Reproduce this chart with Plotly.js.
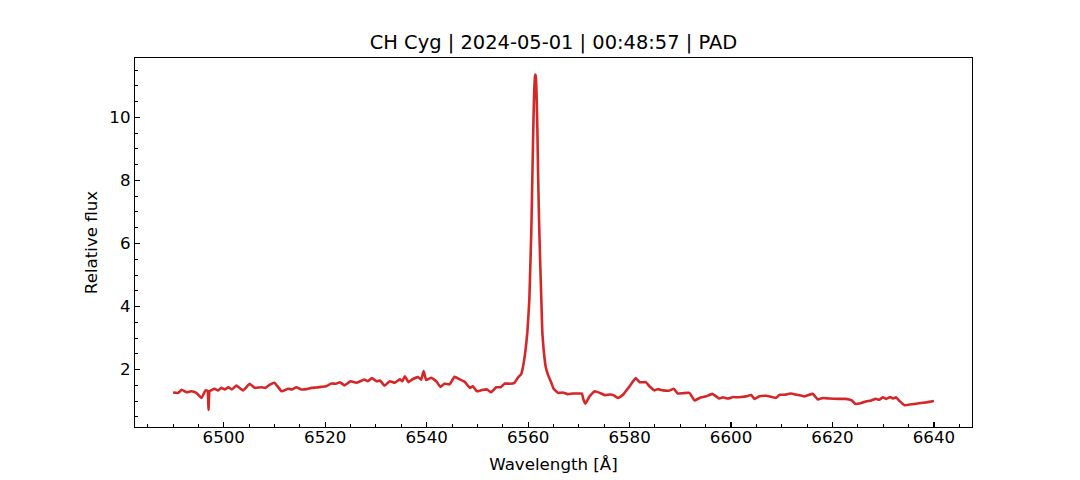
<!DOCTYPE html>
<html>
<head>
<meta charset="utf-8">
<script src="https://cdn.plot.ly/plotly-3.0.1.min.js"></script>
<style>html,body{margin:0;padding:0;background:#fff;}#chart{width:1080px;height:480px;}</style>
</head>
<body>
<div id="chart"></div>
<script>
const chartTitle = "CH Cyg | 2024-05-01 | 00:48:57 | PAD";
const xLabel = "Wavelength [Å]";
const yLabel = "Relative flux";

const wavelength = [
6490.0,6491.0,6491.7,6492.7,6493.6,6494.6,6495.6,6496.4,6496.8,6497.0,6497.2,6498.2,6498.9,6499.5,
6500.2,6500.9,6501.6,6502.5,6503.8,6505.1,6506.1,6507.4,6508.2,6509.1,6510.0,6511.4,6512.7,6513.5,
6514.3,6515.3,6516.3,6517.3,6518.3,6519.2,6520.2,6521.2,6522.1,6522.9,6523.8,6525.0,6526.1,6527.7,
6528.4,6529.2,6530.1,6530.8,6531.7,6532.7,6533.7,6534.7,6535.2,6535.7,6536.4,6537.3,6538.3,6538.9,
6539.4,6539.9,6540.9,6541.9,6542.7,6543.5,6544.5,6545.5,6546.5,6547.5,6548.5,6549.1,6549.9,6550.9,
6551.9,6552.7,6553.7,6554.6,6555.4,6556.4,6557.3,6558.0,6558.6,6559.0,6559.5,6559.84,6560.24,6560.43,
6560.62,6560.75,6560.9,6561.05,6561.2,6561.32,6561.42,6561.52,6561.65,6561.81,6561.94,6562.14,6562.40,
6562.60,6562.80,6563.05,6563.45,6563.9,6564.57,6565.0,6565.9,6566.8,6567.8,6568.8,6569.8,6570.6,
6570.9,6571.3,6572.1,6573.1,6574.1,6575.1,6576.1,6576.8,6577.7,6578.7,6580.0,6581.2,6582.0,6583.2,
6583.9,6584.9,6585.6,6586.6,6587.8,6588.7,6589.5,6590.5,6591.8,6592.8,6593.8,6595.1,6596.3,6597.7,
6598.4,6599.4,6600.4,6601.2,6602.0,6603.0,6604.0,6604.6,6605.6,6606.9,6608.8,6609.6,6610.6,6611.7,
6613.0,6614.5,6616.1,6617.1,6618.1,6619.4,6621.4,6622.5,6623.3,6623.8,6624.5,6625.7,6626.6,6627.6,
6628.5,6629.2,6629.9,6630.6,6631.4,6632.0,6632.5,6633.3,6634.2,6635.2,6637.1,6638.5,6640.0
];
const flux = [
1.27,1.26,1.36,1.28,1.31,1.26,1.10,1.34,1.33,0.72,1.31,1.39,1.34,1.42,
1.37,1.44,1.37,1.49,1.34,1.55,1.42,1.44,1.42,1.52,1.58,1.31,1.39,1.37,
1.44,1.37,1.38,1.42,1.43,1.45,1.47,1.56,1.55,1.60,1.50,1.63,1.58,1.68,
1.63,1.73,1.63,1.65,1.49,1.63,1.58,1.69,1.63,1.79,1.60,1.70,1.76,1.68,
1.95,1.67,1.74,1.63,1.45,1.55,1.53,1.77,1.69,1.61,1.42,1.47,1.31,1.35,
1.37,1.28,1.44,1.44,1.56,1.55,1.58,1.75,1.85,2.10,2.64,3.17,4.22,5.28,
6.35,7.40,8.70,9.90,10.85,11.25,11.36,11.28,10.80,9.73,8.40,6.80,5.28,
4.22,3.17,2.64,2.10,1.84,1.58,1.40,1.26,1.27,1.22,1.24,1.24,1.24,
1.05,0.92,1.15,1.31,1.26,1.19,1.21,1.19,1.10,1.20,1.47,1.73,1.60,1.60,
1.47,1.34,1.38,1.34,1.33,1.39,1.24,1.25,1.26,1.02,1.10,1.15,1.23,1.08,
1.12,1.08,1.13,1.12,1.13,1.15,1.19,1.07,1.15,1.17,1.10,1.20,1.20,1.24,
1.20,1.15,1.23,1.05,1.10,1.08,1.07,1.07,1.05,1.02,0.91,0.94,0.99,1.02,
1.07,1.04,1.12,1.07,1.13,1.08,1.12,0.99,0.87,0.89,0.93,0.96,1.00
];

const font = {family: "DejaVu Sans, sans-serif", size: 16.67, color: "#000"};

const trace = {
  x: wavelength, y: flux, type: "scatter", mode: "lines",
  line: {color: "#d62728", width: 2.6, shape: "spline", smoothing: 0.3}, hoverinfo: "skip"
};

const axisCommon = {
  showgrid: false, zeroline: false, showline: true, mirror: true,
  linecolor: "#000", linewidth: 1.1, ticks: "inside", ticklen: 5,
  tickwidth: 1.1, tickcolor: "#000", tickfont: font
};

const layout = {
  width: 1080, height: 480,
  margin: {l: 135, r: 108, t: 58, b: 53},
  paper_bgcolor: "#fff", plot_bgcolor: "#fff",
  font: font, showlegend: false,
  title: {text: chartTitle, font: {family: font.family, size: 19.44, color: "#000"},
          x: 0.5, xref: "paper", y: 1, yref: "paper", yanchor: "bottom", pad: {b: 9}},
  xaxis: Object.assign({}, axisCommon, {
    range: [6482.5, 6647.5], tick0: 0, dtick: 20, ticklabelstandoff: -5,
    minor: {dtick: 5, ticks: "inside", ticklen: 3, tickwidth: 1, tickcolor: "#000", showgrid: false},
    title: {text: xLabel, font: font, standoff: 12}
  }),
  yaxis: Object.assign({}, axisCommon, {
    range: [0.178, 11.885], tick0: 0, dtick: 2, ticklabelstandoff: 0,
    minor: {dtick: 0.5, ticks: "inside", ticklen: 3, tickwidth: 1, tickcolor: "#000", showgrid: false},
    title: {text: yLabel, font: font, standoff: 7}
  })
};

Plotly.newPlot("chart", [trace], layout, {staticPlot: true, displayModeBar: false});
</script>
</body>
</html>
